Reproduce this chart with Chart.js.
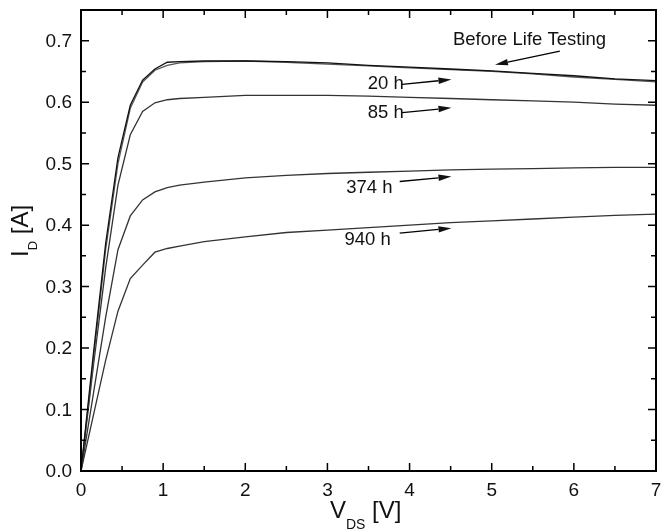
<!DOCTYPE html>
<html>
<head>
<meta charset="utf-8">
<script src="https://cdn.jsdelivr.net/npm/chart.js@4.4.1/dist/chart.umd.min.js"></script>
<style>
  html, body { margin: 0; padding: 0; background: #fff; }
  #wrap { width: 661px; height: 532px; }
</style>
</head>
<body>
<div id="wrap"><canvas id="chart" width="661" height="532"></canvas></div>
<script>
// V_DS sample points [V]
const vds = [0, 0.15, 0.3, 0.45, 0.6, 0.75, 0.9, 1.05, 1.2, 1.5, 2, 2.5, 3, 3.5, 4, 4.5, 5, 5.5, 6, 6.5, 7];

// I_D [A]
const idBefore = [0, 0.19, 0.37, 0.51, 0.595, 0.636, 0.654, 0.665, 0.666, 0.667, 0.667, 0.666, 0.664, 0.660, 0.657, 0.654, 0.651, 0.647, 0.643, 0.638, 0.635];
const id20h    = [0, 0.18, 0.36, 0.50, 0.590, 0.633, 0.652, 0.660, 0.664, 0.666, 0.667, 0.665, 0.662, 0.659, 0.656, 0.653, 0.650, 0.646, 0.641, 0.637, 0.633];
const id85h    = [0, 0.17, 0.33, 0.465, 0.547, 0.585, 0.599, 0.604, 0.606, 0.608, 0.611, 0.611, 0.611, 0.610, 0.608, 0.606, 0.604, 0.602, 0.600, 0.597, 0.595];
const id374h   = [0, 0.125, 0.25, 0.36, 0.415, 0.441, 0.454, 0.461, 0.465, 0.470, 0.477, 0.481, 0.484, 0.486, 0.488, 0.490, 0.491, 0.492, 0.493, 0.494, 0.494];
const id940h   = [0, 0.09, 0.18, 0.26, 0.313, 0.335, 0.356, 0.362, 0.366, 0.373, 0.381, 0.388, 0.392, 0.396, 0.400, 0.404, 0.407, 0.410, 0.413, 0.416, 0.418];

const seriesNames = ["Before Life Testing", "20 h", "85 h", "374 h", "940 h"];
const seriesData = [idBefore, id20h, id85h, id374h, id940h];

const xTicks = [0, 1, 2, 3, 4, 5, 6, 7];
const yTicks = [0, 0.1, 0.2, 0.3, 0.4, 0.5, 0.6, 0.7];
const xTickLabels = ["0", "1", "2", "3", "4", "5", "6", "7"];
const yTickLabels = ["0.0", "0.1", "0.2", "0.3", "0.4", "0.5", "0.6", "0.7"];

// labels with arrows, anchored in data units
const notes = [
  { text: "Before Life Testing", x: 5.46, y: 0.702, from: [5.83, 0.683], to: [5.04, 0.661] },
  { text: "20 h",  x: 3.71, y: 0.629, from: [3.91, 0.629], to: [4.51, 0.637] },
  { text: "85 h",  x: 3.71, y: 0.582, from: [3.91, 0.583], to: [4.51, 0.591] },
  { text: "374 h", x: 3.51, y: 0.461, from: [3.88, 0.471], to: [4.51, 0.479] },
  { text: "940 h", x: 3.49, y: 0.376, from: [3.88, 0.387], to: [4.51, 0.395] }
];

const FONT = "'Liberation Sans', Arial, sans-serif";
const lineColors = ["#111", "#555", "#333", "#333", "#333"];

function drawParts(ctx, parts, x0) {
  parts.forEach(p => {
    ctx.font = p[1] + "px " + FONT;
    ctx.fillText(p[0], x0, p[2]);
    x0 += ctx.measureText(p[0]).width;
  });
}

/* ---------- frame, inward ticks, labels, titles, notes ---------- */
const decorations = {
  id: "decorations",
  afterDraw(chart) {
    const ctx = chart.ctx;
    const xs = chart.scales.x;
    const ys = chart.scales.y;
    const { left, right, top, bottom } = chart.chartArea;
    ctx.save();
    ctx.strokeStyle = "#000";
    ctx.lineWidth = 2;
    ctx.strokeRect(left, top, right - left, bottom - top);

    ctx.lineWidth = 1.5;
    ctx.beginPath();
    for (let v = 0; v <= 7.0001; v += 0.5) {
      const px = xs.getPixelForValue(v);
      const len = Math.abs(v - Math.round(v)) < 1e-6 ? 8 : 5;
      ctx.moveTo(px, bottom); ctx.lineTo(px, bottom - len);
      ctx.moveTo(px, top); ctx.lineTo(px, top + len);
    }
    for (let v = 0; v <= 0.75001; v += 0.05) {
      const py = ys.getPixelForValue(v);
      const major = Math.abs(v * 10 - Math.round(v * 10)) < 1e-6;
      const len = major ? 8 : 5;
      ctx.moveTo(left, py); ctx.lineTo(left + len, py);
      ctx.moveTo(right, py); ctx.lineTo(right - len, py);
    }
    ctx.stroke();

    // tick labels
    ctx.fillStyle = "#111";
    ctx.font = "19px " + FONT;
    ctx.textAlign = "center";
    ctx.textBaseline = "alphabetic";
    xTicks.forEach((v, i) => ctx.fillText(xTickLabels[i], xs.getPixelForValue(v), 496));
    ctx.textAlign = "right";
    ctx.textBaseline = "middle";
    yTicks.forEach((v, i) => ctx.fillText(yTickLabels[i], 72, ys.getPixelForValue(v) + 1));

    // axis titles with subscripts
    ctx.textAlign = "left";
    ctx.textBaseline = "alphabetic";
    const xparts = [["V", 24, 518], ["DS", 14, 529], [" [V]", 24, 518]];
    drawParts(ctx, xparts, 330);

    ctx.save();
    ctx.translate(28, 257);
    ctx.rotate(-Math.PI / 2);
    drawParts(ctx, [["I", 24, 0], ["D", 13, 9], [" [A]", 24, 0]], 0);
    ctx.restore();

    // notes and arrows
    ctx.font = "18.5px " + FONT;
    ctx.textAlign = "center";
    ctx.textBaseline = "middle";
    ctx.lineWidth = 1.3;
    notes.forEach(n => {
      ctx.fillText(n.text, xs.getPixelForValue(n.x), ys.getPixelForValue(n.y));
      const ax = xs.getPixelForValue(n.from[0]), ay = ys.getPixelForValue(n.from[1]);
      const bx = xs.getPixelForValue(n.to[0]), by = ys.getPixelForValue(n.to[1]);
      const ang = Math.atan2(by - ay, bx - ax);
      const hl = 13, hw = 3.2;
      ctx.beginPath();
      ctx.moveTo(ax, ay);
      ctx.lineTo(bx - hl * Math.cos(ang), by - hl * Math.sin(ang));
      ctx.stroke();
      ctx.beginPath();
      ctx.moveTo(bx, by);
      ctx.lineTo(bx - hl * Math.cos(ang) + hw * Math.sin(ang), by - hl * Math.sin(ang) - hw * Math.cos(ang));
      ctx.lineTo(bx - hl * Math.cos(ang) - hw * Math.sin(ang), by - hl * Math.sin(ang) + hw * Math.cos(ang));
      ctx.closePath();
      ctx.fill();
    });
    ctx.restore();
  }
};

new Chart(document.getElementById("chart"), {
  type: "scatter",
  data: {
    datasets: seriesData.map((arr, i) => ({
      label: seriesNames[i],
      data: vds.map((v, k) => ({ x: v, y: arr[k] })),
      showLine: true,
      borderColor: lineColors[i],
      borderWidth: 1.3,
      pointRadius: 0,
      tension: 0,
      fill: false
    }))
  },
  options: {
    responsive: false,
    animation: false,
    devicePixelRatio: 1,
    layout: { padding: { left: 0, top: 10, right: 5, bottom: 0 } },
    plugins: { legend: { display: false }, tooltip: { enabled: false } },
    scales: {
      x: {
        type: "linear",
        min: 0,
        max: 7,
        afterFit: (s) => { s.height = 61; },
        grid: { display: false, drawTicks: false },
        border: { display: false },
        ticks: { display: false }
      },
      y: {
        type: "linear",
        min: 0,
        max: 0.75,
        afterFit: (s) => { s.width = 81; },
        grid: { display: false, drawTicks: false },
        border: { display: false },
        ticks: { display: false }
      }
    }
  },
  plugins: [decorations]
});
</script>
</body>
</html>
